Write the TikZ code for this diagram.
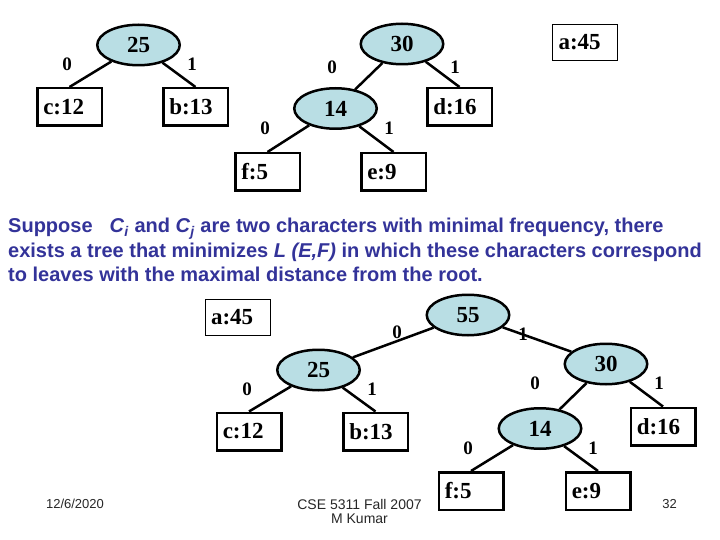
\documentclass[tikz,border=0pt]{standalone}
\usepackage{fontspec}
\setmainfont{Liberation Serif}
\newfontfamily\slidefont{Liberation Sans}
\usetikzlibrary{shapes.geometric}
\definecolor{nodeblue}{RGB}{185,222,228}
\definecolor{slidenavy}{RGB}{51,51,153}
\tikzset{
  inner/.style={ellipse, draw, line width=2.5pt, fill=nodeblue, minimum width=82.5pt, minimum height=40.5pt, inner sep=0pt, font=\fontsize{23}{23}\selectfont\bfseries},
  leaf/.style={rectangle, draw, line width=2.5pt, minimum height=37.5pt, text width=52.5pt, inner xsep=6pt, inner ysep=0pt, align=left, font=\fontsize{23}{23}\selectfont\bfseries},
  lone/.style={leaf, line width=0.8pt, minimum height=36pt, text width=53pt},
  bit/.style={inner sep=0pt, font=\fontsize{19}{19}\selectfont\bfseries},
  edge/.style={line width=2.5pt},
  intro/.style={anchor=base west, inner sep=0pt, text=slidenavy, font=\slidefont\fontsize{20}{24}\selectfont\bfseries},
  foot/.style={inner sep=0pt, text=black!85, font=\slidefont\fontsize{13}{14}\selectfont},
}
\begin{document}
\begin{tikzpicture}[x=1pt, y=-1pt]
\useasboundingbox (0,0) rectangle (720,540);

% first forest: 25, 30 and a:45
\node[inner] (t25) at (138.5,45) {25};
\node[leaf] (tc12) at (69.5,107) {c:12};
\node[leaf] (tb13) at (195.5,107) {b:13};
\node[inner] (t30) at (402,44) {30};
\node[inner] (t14) at (335.5,108.5) {14};
\node[leaf] (td16) at (459.5,107) {d:16};
\node[leaf] (tf5) at (267.5,172) {f:5};
\node[leaf] (te9) at (393.5,172) {e:9};
\node[lone] (ta45) at (585,42.5) {a:45};

\draw[edge] (t25) -- (tc12.north);
\draw[edge] (t25) -- (tb13.north);
\draw[edge] (t30) -- (t14);
\draw[edge] (t30) -- (td16.north);
\draw[edge] (t14) -- (tf5.north);
\draw[edge] (t14) -- (te9.north);

\node[bit] (t25l) at (67,64.5) {0};
\node[bit] (t25r) at (192,64.5) {1};
\node[bit] (t30l) at (332,67) {0};
\node[bit] (t30r) at (455,67) {1};
\node[bit] (t14l) at (265,128) {0};
\node[bit] (t14r) at (389,128) {1};

% statement
\node[intro] (line1) at (8,233) {Suppose\hspace{17pt}\textit{C}\textsubscript{\textit{i}} and \textit{C}\textsubscript{\textit{j}} are two characters with minimal frequency, there};
\node[intro] (line2) at (8,257) {exists a tree that minimizes \textit{L (E,F)} in which these characters correspond};
\node[intro] (line3) at (8,281) {to leaves with the maximal distance from the root.};

% second forest: 55 and a:45
\node[lone] (ba45) at (237.5,317.5) {a:45};
\node[inner] (b55) at (468,315) {55};
\node[inner] (b25) at (318.5,370) {25};
\node[leaf] (bc12) at (249,431.5) {c:12};
\node[leaf] (bb13) at (375.5,431.5) {b:13};
\node[inner] (b30) at (606,364) {30};
\node[inner] (b14) at (540,428.5) {14};
\node[leaf] (bd16) at (663,426.5) {d:16};
\node[leaf] (bf5) at (471,491) {f:5};
\node[leaf] (be9) at (598,491) {e:9};

\draw[edge] (b55) -- (b25);
\draw[edge] (b55) -- (b30);
\draw[edge] (b25) -- (bc12.north);
\draw[edge] (b25) -- (bb13.north);
\draw[edge] (b30) -- (b14);
\draw[edge] (b30) -- (bd16.north);
\draw[edge] (b14) -- (bf5.north);
\draw[edge] (b14) -- (be9.north);

\node[bit] (b55l) at (397,332) {0};
\node[bit] (b55r) at (523,334) {1};
\node[bit] (b25l) at (247,389) {0};
\node[bit] (b25r) at (372,389) {1};
\node[bit] (b30l) at (535,383) {0};
\node[bit] (b30r) at (659,383) {1};
\node[bit] (b14l) at (468,448) {0};
\node[bit] (b14r) at (593,448) {1};

% footer
\node[foot] (date) at (75,504) {12/6/2020};
\node[foot, align=center, font=\slidefont\fontsize{14}{14}\selectfont] (course) at (359.5,511) {CSE 5311 Fall 2007\\M Kumar};
\node[foot] (page) at (669.5,504) {32};
\end{tikzpicture}
\end{document}
